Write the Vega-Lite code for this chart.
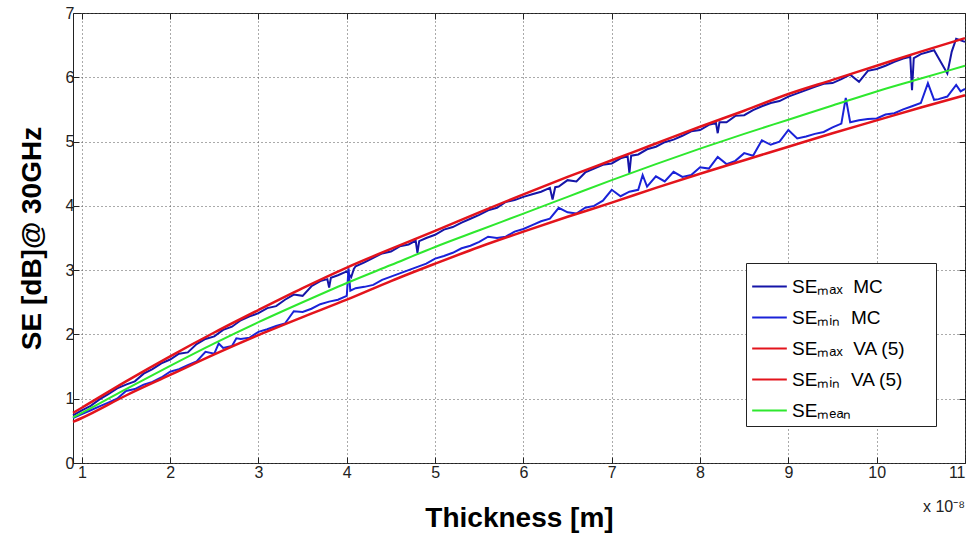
{
  "$schema": "https://vega.github.io/schema/vega-lite/v6.json",
  "width": 892,
  "height": 450,
  "autosize": "none",
  "padding": {"left": 73, "top": 13, "right": 7, "bottom": 74},
  "background": "white",
  "config": {
    "view": {"stroke": "#222", "strokeWidth": 1},
    "font": "Liberation Sans",
    "axis": {
      "labelFont": "Liberation Sans", "labelFontSize": 16, "labelColor": "#222",
      "titleFont": "Liberation Sans", "titleFontSize": 28, "titleFontWeight": "bold", "titleColor": "#000",
      "gridDash": [1, 3], "gridColor": "#555", "gridOpacity": 1, "gridWidth": 1,
      "tickColor": "#222", "tickSize": -6, "domain": false, "labelPadding": 5
    }
  },
  "datasets": {
    "mc": [
      {"x":0.9,"mx":0.74,"mn":0.70},{"x":1.0,"mx":0.82,"mn":0.76},{"x":1.1,"mx":0.89,"mn":0.82},{"x":1.2,"mx":0.99,"mn":0.88},
      {"x":1.3,"mx":1.07,"mn":0.94},{"x":1.4,"mx":1.16,"mn":1.00},{"x":1.5,"mx":1.22,"mn":1.12},{"x":1.6,"mx":1.27,"mn":1.15},
      {"x":1.7,"mx":1.39,"mn":1.22},{"x":1.8,"mx":1.46,"mn":1.26},{"x":1.9,"mx":1.55,"mn":1.33},{"x":2.0,"mx":1.61,"mn":1.42},
      {"x":2.1,"mx":1.70,"mn":1.46},{"x":2.2,"mx":1.72,"mn":1.52},{"x":2.3,"mx":1.85,"mn":1.58},{"x":2.4,"mx":1.93,"mn":1.73},
      {"x":2.5,"mx":1.97,"mn":1.70},{"x":2.55,"mn":1.86},{"x":2.6,"mx":2.07,"mn":1.79},{"x":2.7,"mx":2.12,"mn":1.82},
      {"x":2.75,"mn":1.94},{"x":2.8,"mx":2.22,"mn":1.93},{"x":2.9,"mx":2.28,"mn":1.95},{"x":3.0,"mx":2.33,"mn":2.04},
      {"x":3.1,"mx":2.41,"mn":2.08},{"x":3.2,"mx":2.44,"mn":2.13},{"x":3.3,"mx":2.54,"mn":2.17},{"x":3.4,"mx":2.62,"mn":2.36},
      {"x":3.5,"mx":2.60,"mn":2.35},{"x":3.6,"mx":2.75,"mn":2.40},{"x":3.7,"mx":2.83,"mn":2.47},{"x":3.78,"mx":2.86},
      {"x":3.8,"mx":2.73,"mn":2.51},{"x":3.82,"mx":2.88},{"x":3.9,"mx":2.92,"mn":2.54},{"x":4.0,"mx":2.98,"mn":2.60},
      {"x":4.02,"mn":3.03},{"x":4.04,"mn":2.68},{"x":4.05,"mx":2.89},{"x":4.08,"mx":3.02},{"x":4.1,"mx":3.06,"mn":2.72},
      {"x":4.2,"mx":3.12,"mn":2.74},{"x":4.3,"mx":3.19,"mn":2.77},{"x":4.4,"mx":3.26,"mn":2.85},{"x":4.5,"mx":3.29,"mn":2.90},
      {"x":4.6,"mx":3.37,"mn":2.95},{"x":4.7,"mx":3.40,"mn":3.00},{"x":4.78,"mx":3.46},{"x":4.8,"mx":3.27,"mn":3.05},
      {"x":4.82,"mx":3.45},{"x":4.9,"mx":3.50,"mn":3.10},{"x":5.0,"mx":3.55,"mn":3.18},{"x":5.1,"mx":3.63,"mn":3.22},
      {"x":5.2,"mx":3.67,"mn":3.27},{"x":5.3,"mx":3.74,"mn":3.34},{"x":5.4,"mx":3.80,"mn":3.38},{"x":5.5,"mx":3.86,"mn":3.44},
      {"x":5.6,"mx":3.93,"mn":3.52},{"x":5.7,"mx":3.97,"mn":3.50},{"x":5.8,"mx":4.06,"mn":3.52},{"x":5.9,"mx":4.09,"mn":3.60},
      {"x":6.0,"mx":4.14,"mn":3.64},{"x":6.1,"mx":4.18,"mn":3.70},{"x":6.2,"mx":4.22,"mn":3.76},{"x":6.3,"mx":4.28,"mn":3.80},
      {"x":6.33,"mx":4.10},{"x":6.36,"mx":4.29},{"x":6.4,"mx":4.30,"mn":3.97},{"x":6.5,"mx":4.40,"mn":3.90},
      {"x":6.6,"mx":4.38,"mn":3.88},{"x":6.7,"mx":4.52,"mn":3.97},{"x":6.8,"mx":4.58,"mn":4.00},{"x":6.9,"mx":4.64,"mn":4.08},
      {"x":7.0,"mx":4.66,"mn":4.25},{"x":7.1,"mx":4.74,"mn":4.15},{"x":7.18,"mx":4.77},{"x":7.2,"mx":4.51,"mn":4.22},
      {"x":7.22,"mx":4.78},{"x":7.3,"mx":4.80,"mn":4.25},{"x":7.35,"mn":4.48},{"x":7.4,"mx":4.88,"mn":4.30},
      {"x":7.5,"mx":4.92,"mn":4.46},{"x":7.6,"mx":4.99,"mn":4.38},{"x":7.7,"mx":5.03,"mn":4.53},{"x":7.8,"mx":5.09,"mn":4.45},
      {"x":7.9,"mx":5.16,"mn":4.48},{"x":8.0,"mx":5.18,"mn":4.60},{"x":8.1,"mx":5.26,"mn":4.58},{"x":8.18,"mx":5.29},
      {"x":8.2,"mx":5.13,"mn":4.76},{"x":8.22,"mx":5.30},{"x":8.3,"mx":5.30,"mn":4.65},{"x":8.4,"mx":5.40,"mn":4.70},
      {"x":8.5,"mx":5.41,"mn":4.82},{"x":8.6,"mx":5.49,"mn":4.78},{"x":8.7,"mx":5.55,"mn":5.02},{"x":8.8,"mx":5.60,"mn":4.95},
      {"x":8.9,"mx":5.63,"mn":5.00},{"x":9.0,"mx":5.70,"mn":5.18},{"x":9.1,"mx":5.75,"mn":5.05},{"x":9.2,"mx":5.80,"mn":5.08},
      {"x":9.3,"mx":5.85,"mn":5.12},{"x":9.4,"mx":5.90,"mn":5.15},{"x":9.5,"mx":5.91,"mn":5.22},{"x":9.6,"mx":5.97,"mn":5.28},
      {"x":9.65,"mn":5.68},{"x":9.7,"mx":6.04,"mn":5.30},{"x":9.8,"mx":5.93,"mn":5.33},{"x":9.9,"mx":6.10,"mn":5.35},
      {"x":10.0,"mx":6.13,"mn":5.36},{"x":10.1,"mx":6.18,"mn":5.42},{"x":10.2,"mx":6.24,"mn":5.44},{"x":10.3,"mx":6.29,"mn":5.50},
      {"x":10.38,"mx":6.32},{"x":10.4,"mx":5.80,"mn":5.55},{"x":10.42,"mx":6.30},{"x":10.5,"mx":6.36,"mn":5.60},
      {"x":10.58,"mn":5.91},{"x":10.6,"mx":6.40},{"x":10.65,"mx":6.42,"mn":5.65},{"x":10.7,"mx":6.30,"mn":5.66},
      {"x":10.8,"mx":6.06,"mn":5.70},{"x":10.85,"mx":6.40},{"x":10.9,"mx":6.60,"mn":5.88},{"x":10.95,"mn":5.78},
      {"x":11.0,"mx":6.55,"mn":5.82}
    ],
    "va": [
      {"x":0.9,"vmax":0.78,"vmin":0.64,"mean":0.71},{"x":1.0,"vmax":0.86,"vmin":0.70,"mean":0.78},
      {"x":1.5,"vmax":1.27,"vmin":1.05,"mean":1.15},{"x":2.0,"vmax":1.66,"vmin":1.37,"mean":1.51},
      {"x":2.5,"vmax":2.03,"vmin":1.69,"mean":1.86},{"x":3.0,"vmax":2.38,"vmin":1.99,"mean":2.19},
      {"x":3.5,"vmax":2.72,"vmin":2.27,"mean":2.50},{"x":4.0,"vmax":3.04,"vmin":2.54,"mean":2.80},
      {"x":4.5,"vmax":3.33,"vmin":2.83,"mean":3.08},{"x":5.0,"vmax":3.61,"vmin":3.10,"mean":3.36},
      {"x":5.5,"vmax":3.90,"vmin":3.36,"mean":3.62},{"x":6.0,"vmax":4.18,"vmin":3.60,"mean":3.88},
      {"x":6.5,"vmax":4.45,"vmin":3.83,"mean":4.14},{"x":7.0,"vmax":4.71,"vmin":4.05,"mean":4.40},
      {"x":7.5,"vmax":4.97,"vmin":4.28,"mean":4.65},{"x":8.0,"vmax":5.23,"vmin":4.50,"mean":4.89},
      {"x":8.5,"vmax":5.48,"vmin":4.71,"mean":5.12},{"x":9.0,"vmax":5.74,"vmin":4.92,"mean":5.34},
      {"x":9.5,"vmax":5.96,"vmin":5.13,"mean":5.56},{"x":10.0,"vmax":6.18,"vmin":5.33,"mean":5.78},
      {"x":10.5,"vmax":6.40,"vmin":5.53,"mean":5.98},{"x":11.0,"vmax":6.61,"vmin":5.72,"mean":6.18}
    ]
  },
  "resolve": {"axis": {"x": "independent", "y": "independent"}},
  "layer": [
    {
      "data": {"name": "mc"},
      "transform": [{"fold": ["mx", "mn"], "as": ["series", "se"]}],
      "mark": {"type": "line", "strokeWidth": 2, "invalid": "filter"},
      "encoding": {
        "x": {"field": "x", "type": "quantitative", "scale": {"domain": [0.9, 11], "nice": false, "zero": false}, "axis": null},
        "y": {"field": "se", "type": "quantitative", "scale": {"domain": [0, 7], "nice": false}, "axis": null},
        "color": {"field": "series", "type": "nominal",
          "scale": {"domain": ["mx", "mn", "vmax", "vmin", "mean"], "range": ["#1515a8", "#1a22d8", "#e3141c", "#e3141c", "#2ee82e"]},
          "legend": {
            "orient": "none", "legendX": 673, "legendY": 250, "title": null,
            "symbolType": "stroke", "symbolSize": 1200, "symbolStrokeWidth": 2,
            "labelFont": "Liberation Sans", "labelFontSize": 19, "labelColor": "#000", "labelLimit": 400,
            "fillColor": "white", "strokeColor": "#222", "padding": 5,
            "labelExpr": "datum.label == 'mx' ? 'SEₘₐₓ\u00a0\u00a0MC' : datum.label == 'mn' ? 'SEₘᵢₙ\u00a0\u00a0MC' : datum.label == 'vmax' ? 'SEₘₐₓ\u00a0\u00a0VA (5)\u00a0\u00a0\u2800' : datum.label == 'vmin' ? 'SEₘᵢₙ\u00a0\u00a0VA (5)' : 'SEₘₑₐₙ'"
          }}
      }
    },
    {
      "data": {"name": "va"},
      "transform": [{"fold": ["vmax", "vmin"], "as": ["series", "se"]}],
      "mark": {"type": "line", "strokeWidth": 2.5, "interpolate": "monotone"},
      "encoding": {
        "x": {"field": "x", "type": "quantitative", "scale": {"domain": [0.9, 11], "nice": false, "zero": false},
          "axis": {"values": [1,2,3,4,5,6,7,8,9,10,11], "format": "d", "title": "Thickness [m]", "titlePadding": 24, "labelPadding": 7, "grid": true}},
        "y": {"field": "se", "type": "quantitative", "scale": {"domain": [0, 7], "nice": false},
          "axis": {"values": [0,1,2,3,4,5,6,7], "format": "d", "title": "SE [dB]@ 30GHz", "titlePadding": 19, "grid": true}},
        "color": {"field": "series", "type": "nominal"}
      }
    },
    {
      "data": {"name": "va"},
      "transform": [{"fold": ["mean"], "as": ["series", "se"]}],
      "mark": {"type": "line", "strokeWidth": 2, "interpolate": "monotone"},
      "encoding": {
        "x": {"field": "x", "type": "quantitative", "scale": {"domain": [0.9, 11], "nice": false, "zero": false},
          "axis": {"orient": "top", "values": [1,2,3,4,5,6,7,8,9,10,11], "labels": false, "grid": false, "title": null}},
        "y": {"field": "se", "type": "quantitative", "scale": {"domain": [0, 7], "nice": false},
          "axis": {"orient": "right", "values": [0,1,2,3,4,5,6,7], "labels": false, "grid": false, "title": null}},
        "color": {"field": "series", "type": "nominal"}
      }
    },
    {
      "data": {"values": [{"lab": "x 10⁻⁸"}]},
      "mark": {"type": "text", "align": "right", "baseline": "middle", "fontSize": 16, "font": "Liberation Sans", "color": "#222"},
      "encoding": {
        "x": {"datum": 11, "type": "quantitative", "scale": {"domain": [0.9, 11], "nice": false, "zero": false}, "axis": null},
        "y": {"datum": -0.68, "type": "quantitative", "scale": {"domain": [0, 7], "nice": false}, "axis": null},
        "text": {"field": "lab"}
      }
    }
  ]
}
